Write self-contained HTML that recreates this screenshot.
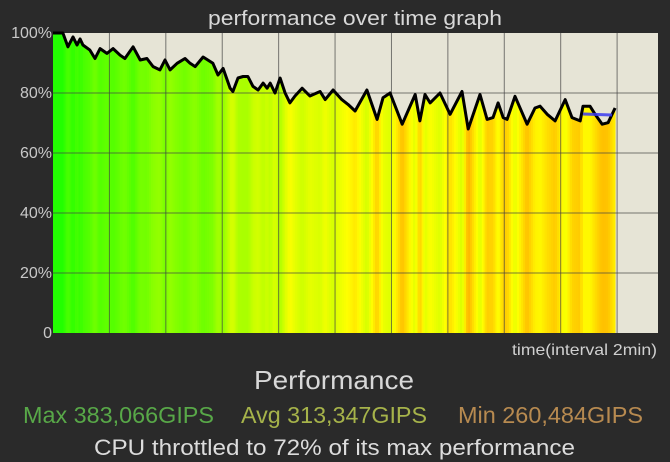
<!DOCTYPE html>
<html><head><meta charset="utf-8"><style>
html,body{margin:0;padding:0;background:#2a2a2a;}
svg{display:block;}
text{font-family:"Liberation Sans Narrow","Liberation Sans",sans-serif;}
</style></head><body>
<svg id="chart" width="670" height="462" viewBox="0 0 670 462" xmlns="http://www.w3.org/2000/svg">
<rect x="0" y="0" width="670" height="462" fill="#2a2a2a"/>
<text x="355" y="25" text-anchor="middle" font-size="20" fill="#d8d8d8" textLength="294" lengthAdjust="spacingAndGlyphs">performance over time graph</text>
<rect x="53" y="33" width="605" height="300" fill="#e6e4d6"/>
<g id="fills"></g>
<g id="grid"></g>
<g id="yticks"></g>
<path id="line" fill="none" stroke="#000" stroke-width="3" stroke-linejoin="round"/>
<line x1="583" y1="114" x2="612" y2="115" stroke="#3b3bf0" stroke-width="3" opacity="0.85"/>
<text x="657" y="355" text-anchor="end" font-size="16" fill="#d0d0d0" textLength="145" lengthAdjust="spacingAndGlyphs">time(interval 2min)</text>
<text x="334" y="389" text-anchor="middle" font-size="26" fill="#d8d8d8" textLength="160" lengthAdjust="spacingAndGlyphs">Performance</text>
<text x="23" y="423" font-size="23" fill="#58a848" textLength="191" lengthAdjust="spacingAndGlyphs">Max 383,066GIPS</text>
<text x="241" y="423" font-size="23" fill="#a6b34a" textLength="186" lengthAdjust="spacingAndGlyphs">Avg 313,347GIPS</text>
<text x="458" y="423" font-size="23" fill="#b78a50" textLength="185" lengthAdjust="spacingAndGlyphs">Min 260,484GIPS</text>
<text x="94" y="455" font-size="22" fill="#dcdcdc" textLength="481" lengthAdjust="spacingAndGlyphs">CPU throttled to 72% of its max performance</text>
</svg>
<script>
const times=[0,0.35,0.53,0.71,0.85,0.96,1.06,1.31,1.49,1.67,1.91,2.13,2.38,2.55,2.84,3.09,3.33,3.55,3.79,3.97,4.15,4.4,4.68,4.86,5.04,5.32,5.67,5.85,6.03,6.28,6.38,6.56,6.74,6.91,7.09,7.27,7.45,7.59,7.7,7.87,8.05,8.23,8.4,8.58,8.83,9.11,9.47,9.65,9.93,10.24,10.46,10.71,11.13,11.49,11.7,11.95,12.38,12.84,13.01,13.19,13.37,13.72,14.08,14.5,14.72,15.14,15.39,15.6,15.78,15.96,16.1,16.38,16.81,17.09,17.27,17.52,17.8,18.16,18.4,18.69,18.79,19.04,19.22,19.47,19.68,19.93];
const perf=[100,100,95.4,98.7,96,98,96,94.3,91.5,94.8,93.2,94.8,92.6,91.5,95.4,91,91.5,88.8,87.7,91,87.7,89.9,91.5,89.9,88.8,92,89.9,86,88.2,81.6,80.5,85,85.5,85.5,82.2,81,83.3,81.6,83.3,80,85,80,76.7,79,81.6,79,80.5,77.8,81,77.8,76.2,74,81,71.2,78.4,80,69.6,79.5,70.7,79.5,76.7,80,72.9,80.5,68,79.5,71.2,71.8,76.7,71.8,71.2,78.9,69.6,75,75.6,72.9,70.7,77.8,71.8,70.7,75.6,75.6,72.9,69.6,70.1,75];
const yTicks=[0,20,40,60,80,100];
const yTickLabels=["0","20%","40%","60%","80%","100%"];
const xGridTimes=[2,4,6,8,10,12,14,16,18,20];
const X0=53,X1=658,Y0=333,Y1=33,TMAX=21.45;
const sx=t=>X0+(X1-X0)*t/TMAX;
const sy=v=>Y0-(Y0-Y1)*v/100;
const NS="http://www.w3.org/2000/svg";
function hue(v){return Math.max(38,Math.min(112,46+(v-70)*2.2));}
const fills=document.getElementById('fills');
for(let i=0;i<times.length-1;i++){
  const xa=sx(times[i]),xb=sx(times[i+1]);
  const steps=Math.max(1,Math.round((xb-xa)/2));
  for(let k=0;k<steps;k++){
    const f=(k+0.5)/steps;
    const v=perf[i]+(perf[i+1]-perf[i])*f;
    const r=document.createElementNS(NS,'rect');
    
    
    const x=xa+(xb-xa)*k/steps, w=(xb-xa)/steps+0.4;
    r.setAttribute('x',x);r.setAttribute('width',w);
    r.setAttribute('y',sy(v));r.setAttribute('height',Y0-sy(v));
    r.setAttribute('fill','hsl('+hue(v)+',100%,50%)');
    fills.appendChild(r);
  }
}
const grid=document.getElementById('grid');
xGridTimes.forEach(t=>{
  const l=document.createElementNS(NS,'line');
  
  
  l.setAttribute('x1',sx(t));l.setAttribute('x2',sx(t));l.setAttribute('y1',Y1);l.setAttribute('y2',Y0);
  l.setAttribute('stroke','#444');l.setAttribute('stroke-width','1');l.setAttribute('opacity','0.7');
  grid.appendChild(l);
});
const yt=document.getElementById('yticks');
yTicks.forEach((v,i)=>{
  if(v>0&&v<100){
    const l=document.createElementNS(NS,'line');
    
    
    l.setAttribute('x1',X0);l.setAttribute('x2',X1);l.setAttribute('y1',sy(v));l.setAttribute('y2',sy(v));
    l.setAttribute('stroke','#444');l.setAttribute('opacity','0.7');
    grid.appendChild(l);
  }
  const t=document.createElementNS(NS,'text');
  
  
  t.setAttribute('x',X0-1);t.setAttribute('y',sy(v)+5);
  t.setAttribute('text-anchor','end');t.setAttribute('font-size','16');t.setAttribute('fill','#c8c8c8');
  t.textContent=yTickLabels[i];
  yt.appendChild(t);
});
let d='';
times.forEach((t,i)=>{d+=(i?'L':'M')+sx(t).toFixed(1)+','+sy(perf[i]).toFixed(1);});
document.getElementById('line').setAttribute('d',d);
</script>
</body></html>
